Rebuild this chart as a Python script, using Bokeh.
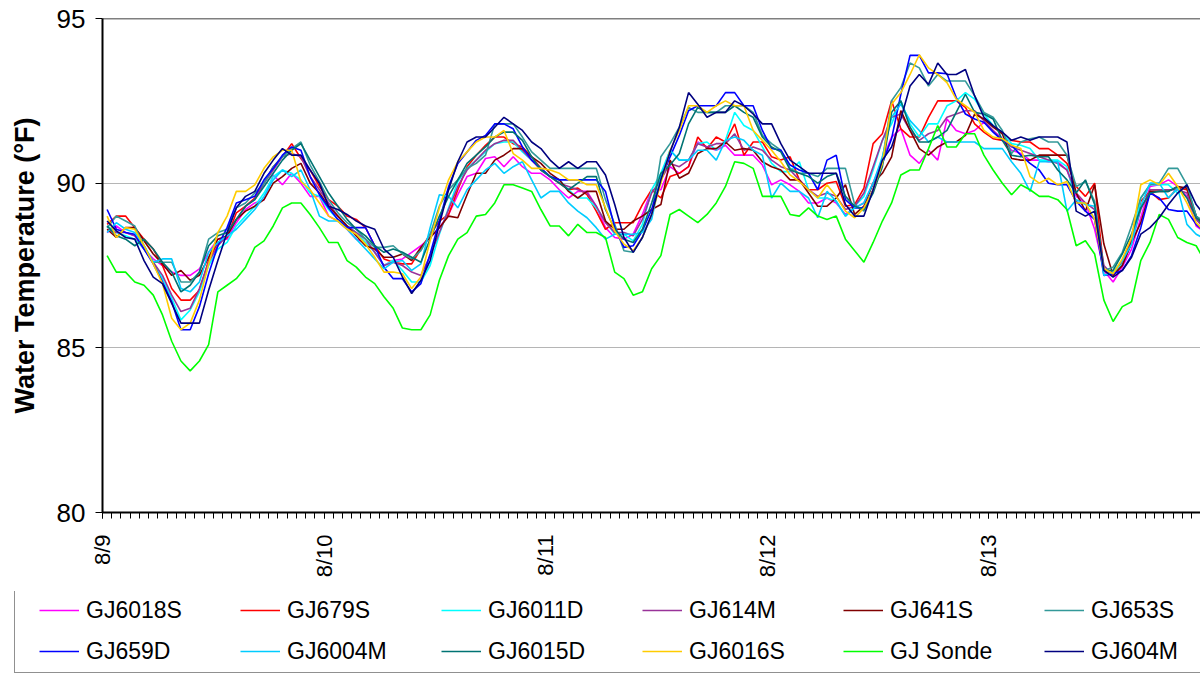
import math
from bokeh.plotting import figure
from bokeh.layouts import column, row
from bokeh.models import FixedTicker, Legend, LegendItem, Span, Range1d
from bokeh.embed import file_html
from bokeh.resources import INLINE

# ---------------- data (hourly readings, 8/9 00:00 onward) ----------------
day_labels = ["8/9", "8/10", "8/11", "8/12", "8/13"]
y_ticks = [80, 85, 90, 95]

series_names = ["GJ6018S", "GJ679S", "GJ6011D", "GJ614M", "GJ641S", "GJ653S",
                "GJ659D", "GJ6004M", "GJ6015D", "GJ6016S", "GJ Sonde", "GJ604M"]
series_colors = ["#FF00FF", "#FF0000", "#00FFFF", "#993399", "#800000", "#339999",
                 "#0000FF", "#00CCFF", "#007373", "#FFCC00", "#00FF00", "#000080"]

gj6018s = [
    88.5, 88.7, 88.5, 88.4, 88.0, 87.7, 87.5, 87.3, 87.2, 87.2, 87.4, 87.9, 88.3, 88.3, 88.8, 89.2,
    89.4, 89.5, 90.25, 89.95, 90.3, 90.0, 89.6, 89.6, 89.0, 88.85, 88.6, 88.3, 88.2, 87.9, 87.5,
    87.65, 87.7, 87.9, 88.1, 88.35, 88.65, 89.05, 89.65, 90.2, 90.3, 90.75, 90.8, 90.5, 90.8, 90.5,
    90.3, 90.3, 90.1, 89.8, 89.55, 89.75, 89.75, 89.3, 88.65, 88.35, 88.3, 88.45, 89.05, 89.8,
    89.8, 90.5, 90.3, 90.5, 91.25, 91.1, 91.0, 91.15, 90.85, 90.85, 90.85, 90.55, 89.95, 90.1, 89.95,
    89.75, 89.4, 89.4, 89.55, 89.4, 89.05, 89.25, 89.4, 90.0, 90.7, 91.4,
    91.65, 90.85, 90.6, 91.0, 90.7, 91.95, 91.6, 91.5, 91.6, 91.85, 91.6, 91.35, 91.0, 90.9, 90.7,
    90.7, 90.65, 90.65, 90.4, 89.6, 89.4, 88.6, 87.35, 87.0, 87.45, 88.0, 88.95, 89.9, 89.95, 90.1,
    89.9, 89.6, 88.7, 88.5]

gj679s = [
    88.75, 89.0, 89.0, 88.65, 88.3, 88.0, 87.5, 86.8, 86.45, 86.45, 86.75, 87.65, 88.2, 88.35, 89.1,
    89.3, 89.55, 90.0, 90.5, 90.8, 91.2, 90.75, 90.4, 89.9, 89.5, 89.3, 89.0, 88.9, 88.65, 88.1, 87.7,
    87.6, 87.55, 87.55, 88.0, 88.45, 88.85, 89.05, 89.8, 90.5, 90.85, 91.15, 91.4, 91.4, 91.2, 91.1,
    90.8, 90.45, 90.2, 90.0, 89.8, 89.85, 89.65, 89.15, 88.6, 88.8, 88.8, 88.8, 89.35, 89.8,
    89.55, 90.2, 90.3, 90.5, 91.4, 91.05, 91.4, 91.25, 91.8, 90.85, 91.25, 91.25, 90.8, 90.7, 90.8,
    90.1, 89.8, 89.8, 90.0, 90.05, 89.3, 89.35, 89.85, 91.2, 91.5, 92.5,
    91.65, 91.4, 91.4, 92.0, 92.5, 92.5, 92.5, 92.3, 91.8, 91.55, 91.35, 91.3, 91.3, 91.25, 91.25,
    91.05, 91.05, 90.85, 90.6, 89.9, 89.6, 90.0, 87.35, 87.2, 87.6, 88.3, 89.45, 89.75, 89.5, 89.55,
    89.85, 89.8, 89.0, 88.6]

gj6011d = [
    88.7, 88.5, 88.4, 88.3, 88.0, 87.6, 87.1, 86.5, 85.85, 86.15, 86.7, 87.5, 88.0, 88.2, 88.7, 89.0,
    89.3, 89.7, 90.2, 90.4, 90.3, 90.1, 89.7, 89.6, 89.2, 88.9, 88.7, 88.5, 88.2, 87.9, 87.5,
    87.65, 87.35, 87.0, 87.0, 87.5, 88.45, 89.25, 90.05, 90.45, 90.7, 90.95, 91.2, 91.25, 91.25, 90.95,
    90.7, 90.45, 90.2, 90.1, 89.8, 89.55, 89.55, 89.25, 88.85, 88.45, 88.45, 88.25, 88.75, 89.8,
    90.3, 91.0, 90.7, 90.7, 91.2, 91.25, 91.0, 91.3, 92.15, 91.75, 91.6, 91.1, 90.6, 90.35, 90.35,
    90.65, 89.8, 89.55, 89.55, 89.45, 89.0, 89.3, 89.6, 90.4, 91.3, 91.8,
    92.5, 91.8, 91.4, 91.8, 91.8, 92.35, 92.5, 92.75, 92.55, 92.1, 91.75, 91.5, 91.2, 91.15, 91.05,
    90.7, 90.7, 90.7, 90.5, 89.4, 89.4, 88.9, 87.4, 87.25, 87.55, 88.15, 89.55, 89.95, 89.95, 89.95,
    89.7, 89.95, 89.0, 88.6]

gj614m = [
    88.6, 88.5, 88.5, 88.4, 88.0, 87.6, 87.2, 86.6, 86.1, 86.2, 86.8, 87.6, 88.1, 88.4, 88.9, 89.3,
    89.5, 90.0, 90.4, 90.8, 90.9, 90.8, 90.2, 89.8, 89.4, 89.0, 88.7, 88.5, 88.3, 87.9, 87.5,
    87.6, 87.5, 87.3, 87.2, 87.8, 88.5, 89.2, 89.9, 90.4, 90.7, 91.0, 91.2, 91.3, 91.3, 91.0,
    90.7, 90.4, 90.2, 90.0, 89.9, 89.8, 89.7, 89.3, 88.8, 88.5, 88.5, 88.4, 88.9, 89.7,
    90.1, 90.6, 90.5, 90.7, 91.2, 91.1, 91.2, 91.2, 91.5, 91.0, 91.1, 91.0, 90.7, 90.5, 90.4,
    90.1, 89.8, 89.6, 89.7, 89.6, 89.2, 89.3, 89.7, 90.5, 91.3, 92.0,
    92.1, 91.6, 91.3, 91.5, 91.6, 92.0, 92.1, 92.2, 92.2, 91.9, 91.6, 91.3, 91.1, 91.0, 90.9,
    90.8, 90.7, 90.6, 90.4, 89.7, 89.4, 89.2, 87.5, 87.2, 87.5, 88.2, 89.2, 89.8, 89.8, 89.8,
    89.8, 89.7, 88.9, 88.6]

gj641s = [
    88.6, 88.35, 88.65, 88.65, 88.25, 87.85, 87.55, 87.2, 87.35, 87.05, 87.2, 87.75, 88.3, 88.4, 88.9,
    89.15, 89.3, 89.5, 90.0, 90.2, 90.45, 90.6, 90.0, 89.7, 89.3, 89.0, 88.7, 88.4, 88.1, 88.0, 87.75,
    87.75, 87.85, 87.65, 88.05, 88.35, 88.65, 89.0, 88.95, 89.65, 90.3, 90.3, 90.7, 90.85, 91.05, 91.05,
    90.8, 90.6, 90.3, 90.1, 89.75, 89.55, 89.75, 89.75, 88.85, 88.6, 88.6, 88.85, 89.0, 89.2,
    89.35, 90.7, 90.15, 90.3, 90.9, 91.05, 91.05, 91.25, 91.0, 91.05, 91.0, 90.65, 90.5, 90.4, 90.1,
    90.1, 89.7, 89.3, 89.3, 89.55, 89.95, 89.05, 89.3, 90.0, 90.3, 90.8,
    92.2, 91.6, 91.05, 90.85, 91.1, 91.25, 91.25, 91.45, 92.1, 91.95, 91.7, 91.5, 90.75, 90.7, 90.7,
    90.85, 90.85, 90.85, 90.85, 89.7, 89.15, 89.95, 88.15, 87.2, 87.5, 88.2, 88.8, 89.75, 89.75, 89.75,
    89.9, 89.85, 89.0, 88.7]

gj653s = [
    88.65, 89.0, 88.85, 88.7, 88.1, 87.6, 87.6, 87.6, 87.0, 87.0, 87.3, 88.3, 88.5, 88.6, 89.25, 89.4,
    89.7, 90.0, 90.5, 90.8, 91.05, 91.25, 90.55, 90.05, 89.5, 89.1, 88.8, 88.6, 88.3, 88.05, 88.05,
    88.1, 87.85, 87.7, 87.95, 88.45, 89.3, 89.8, 90.1, 90.45, 90.6, 90.85, 91.8, 91.8, 91.8, 91.4,
    90.95, 90.7, 90.45, 90.45, 90.45, 90.45, 90.45, 90.45, 89.5, 88.75, 87.95, 87.9, 88.35, 89.05,
    90.8, 91.2, 91.7, 92.3, 92.15, 92.15, 92.15, 92.35, 92.35, 92.35, 92.15, 91.45, 91.2, 91.0, 90.45,
    90.3, 90.3, 90.2, 90.45, 90.45, 90.45, 89.35, 89.15, 89.8, 90.7, 92.5,
    92.9, 93.65, 93.5, 92.95, 93.3, 93.1, 93.1, 93.1, 92.65, 92.15, 92.0, 91.6, 90.9, 91.25, 91.35,
    91.4, 91.25, 91.25, 90.85, 89.9, 90.05, 89.45, 87.35, 87.45, 87.9, 88.7, 89.55, 89.95, 90.0, 90.45,
    90.45, 89.95, 89.0, 88.8]

gj659d = [
    89.2, 88.6, 88.5, 88.45, 88.0, 87.55, 87.0, 86.4, 85.55, 85.55, 86.25, 87.25, 88.1, 88.65, 89.4,
    89.5, 89.6, 90.1, 90.45, 90.85, 91.1, 91.0, 90.2, 89.65, 89.25, 88.9, 88.65, 88.65, 88.65, 88.1, 87.45,
    87.1, 87.1, 86.7, 86.95, 87.85, 88.85, 89.9, 90.6, 90.95, 91.3, 91.45, 91.8, 91.8, 91.65, 91.1,
    90.7, 90.45, 90.2, 90.1, 90.1, 90.1, 90.1, 90.1, 89.75, 88.65, 88.05, 88.1, 88.55, 89.2,
    90.1, 90.8, 91.45, 92.2, 92.35, 92.35, 92.35, 92.75, 92.75, 92.35, 92.35, 91.6, 91.05, 91.0, 90.55,
    90.4, 90.3, 89.8, 90.7, 90.85, 89.5, 89.25, 89.25, 89.8, 90.6, 91.35,
    92.7, 93.88, 93.88, 93.35, 93.35, 93.32, 92.6, 92.1, 91.95, 91.85, 91.55, 91.3, 91.15, 90.85, 90.6,
    90.4, 90.0, 89.95, 89.95, 89.45, 89.15, 88.9, 87.2, 87.25, 87.35, 87.8, 88.65, 89.7, 89.55, 89.2,
    89.15, 89.15, 88.75, 88.5]

gj6004m = [
    88.5, 88.8, 88.6, 88.5, 88.1, 87.6, 87.7, 87.7, 86.8, 86.7, 87.0, 87.9, 88.2, 88.4, 88.6, 88.9,
    89.2, 89.6, 90.1, 90.4, 90.2, 90.4, 89.8, 89.0, 88.85, 88.85, 88.6, 88.3, 88.0, 87.7, 87.4,
    87.6, 87.65, 87.35, 87.55, 88.65, 89.65, 89.6, 89.25, 89.8, 90.1, 90.4, 90.6, 90.3, 90.5, 90.65,
    90.1, 89.55, 89.75, 89.75, 89.4, 89.15, 88.95, 88.65, 88.3, 88.45, 88.45, 88.45, 88.5, 88.9,
    90.2, 91.0, 90.7, 90.7, 91.0, 91.0, 90.7, 91.3, 91.4, 91.3, 91.0, 90.85, 89.55, 90.0, 89.75,
    89.75, 89.55, 88.95, 89.75, 89.45, 89.0, 89.25, 89.4, 90.0, 90.8, 92.0,
    92.4, 91.9, 91.6, 91.25, 91.4, 91.25, 91.25, 91.25, 91.25, 91.05, 91.05, 91.05, 90.65, 90.3, 89.75,
    90.65, 90.65, 90.65, 89.15, 89.5, 89.35, 89.3, 87.2, 87.3, 87.65, 88.15, 89.3, 90.0, 90.0, 89.55,
    89.85, 88.75, 88.45, 88.3]

gj6015d = [
    88.7, 88.4, 88.3, 88.1, 88.3, 88.0, 87.6, 87.3, 86.7, 86.9, 87.3, 88.1, 88.4, 88.5, 88.9, 89.3,
    89.5, 89.9, 90.3, 90.7, 91.0, 91.2, 90.7, 90.2, 89.7, 89.3, 88.9, 88.6, 88.4, 88.1, 87.9,
    88.0, 87.9, 87.75, 87.6, 88.3, 89.0, 89.6, 90.1, 90.6, 90.85, 91.1, 91.4, 91.55, 91.55, 91.3,
    90.8, 90.4, 90.2, 90.0, 89.8, 90.0, 90.2, 90.2, 89.2, 88.6, 88.3, 88.2, 88.6, 89.4,
    90.3, 90.55, 90.9, 91.8, 92.3, 92.15, 92.15, 92.15, 92.35, 92.15, 92.0, 91.4, 91.1, 90.95, 90.4,
    90.3, 90.2, 90.0, 90.2, 90.3, 89.6, 89.3, 89.2, 89.7, 90.5, 92.15,
    92.5, 91.7, 91.25, 91.25, 91.4, 91.6, 92.15, 92.7, 92.15, 92.1, 91.95, 91.3, 90.85, 90.8, 90.85,
    90.8, 90.8, 90.4, 90.1, 89.7, 90.1, 89.35, 87.35, 87.35, 87.85, 88.45, 89.25, 89.7, 89.75, 89.75,
    89.9, 89.55, 88.95, 88.7]

gj6016s = [
    89.0, 88.35, 88.65, 88.6, 88.1, 87.55, 86.95, 85.9, 85.55, 85.75, 86.45, 87.55, 88.5, 89.0, 89.75,
    89.75, 89.95, 90.45, 90.8, 91.0, 91.0, 90.05, 89.8, 89.4, 89.0, 88.85, 88.6, 88.45, 88.15, 87.75, 87.3,
    87.3, 87.25, 86.8, 87.15, 88.25, 89.25, 90.1, 90.65, 90.95, 91.25, 91.4, 91.4, 91.6, 90.9, 90.7,
    90.45, 90.45, 90.4, 90.3, 90.1, 90.1, 89.95, 89.95, 89.25, 88.55, 88.15, 87.95, 88.35, 89.05,
    90.0, 91.0, 91.6, 92.35, 92.35, 92.15, 92.35, 92.5, 92.35, 92.35, 91.6, 91.3, 91.0, 90.65, 90.25,
    90.05, 89.8, 89.55, 89.95, 89.6, 89.15, 88.95, 89.25, 89.8, 90.6, 92.4,
    92.75, 93.3, 93.9, 93.5, 93.3, 93.05, 92.55, 92.35, 92.15, 91.6, 91.4, 91.35, 91.15, 91.05, 90.2,
    90.0, 90.15, 89.95, 90.05, 89.4, 89.4, 88.9, 87.4, 87.25, 87.7, 88.35, 89.95, 90.1, 89.95, 90.3,
    89.9, 89.4, 88.8, 88.5]

gj_sonde = [
    87.8, 87.3, 87.3, 87.0, 86.9, 86.6, 86.0, 85.2, 84.6, 84.3, 84.6, 85.1, 86.7, 86.9, 87.1, 87.45,
    88.05, 88.25, 88.7, 89.25, 89.4, 89.4, 89.05, 88.65, 88.2, 88.2, 87.65, 87.45, 87.15, 86.95, 86.55,
    86.2, 85.6, 85.55, 85.55, 86.0, 87.05, 87.8, 88.3, 88.5, 89.0, 89.05, 89.4, 89.95, 89.95, 89.85,
    89.75, 89.2, 88.7, 88.7, 88.4, 88.75, 88.5, 88.5, 88.35, 87.3, 87.1, 86.6, 86.7, 87.4,
    87.8, 89.05, 89.2, 89.0, 88.8, 89.05, 89.4, 89.9, 90.65, 90.6, 90.45, 89.6, 89.6, 89.6, 89.05,
    89.0, 89.25, 89.0, 88.9, 89.0, 88.3, 87.95, 87.6, 88.2, 88.85, 89.4,
    90.25, 90.4, 90.4, 91.05, 91.75, 91.1, 91.1, 91.5, 91.5, 90.85, 90.4, 90.0, 89.65, 89.95, 89.8,
    89.6, 89.6, 89.5, 89.2, 88.1, 88.25, 87.85, 86.45, 85.8, 86.25, 86.4, 87.65, 88.2, 89.05, 88.9,
    88.35, 88.2, 88.1, 87.6]

gj604m = [
    88.85, 88.55, 88.35, 88.3, 87.65, 87.15, 86.95, 86.35, 85.75, 85.75, 85.75, 86.75, 87.65, 88.5,
    89.25, 89.6, 89.75, 90.3, 90.7, 91.05, 90.85, 90.85, 90.4, 90.0, 89.3, 89.2, 89.05, 88.85, 88.7,
    88.6, 88.0,
    87.75, 87.15, 86.65, 87.05, 87.65, 88.75, 89.8, 90.65, 91.25, 91.4, 91.4, 91.7, 92.0, 91.8, 91.6,
    91.25, 91.05, 90.7, 90.45, 90.65, 90.45, 90.65, 90.65, 90.25, 89.35, 88.35, 87.9, 88.35, 89.05,
    90.1, 90.95, 91.7, 92.75, 92.4, 92.0, 92.15, 92.15, 92.5, 92.35, 92.1, 91.8, 91.8, 91.2, 90.7,
    90.5, 90.3, 90.3, 90.3, 90.3, 89.35, 89.0, 89.0, 89.8, 90.7, 91.1,
    91.95, 92.95, 93.3, 93.0, 93.65, 93.3, 93.3, 93.45, 92.65, 92.0, 91.75, 91.55, 91.3, 91.4, 91.3,
    91.4, 91.4, 91.4, 91.25, 89.15, 89.0, 89.15, 87.35, 87.15, 87.35, 87.75, 88.45, 88.65, 88.95, 89.35,
    89.7, 89.95, 89.35, 89.0]

series_values = [gj6018s, gj679s, gj6011d, gj614m, gj641s, gj653s,
                 gj659d, gj6004m, gj6015d, gj6016s, gj_sonde, gj604m]

# ---------------- main chart ----------------
FONT = "Liberation Sans"
HOURS_PER_DAY = 24
n_hours = max(len(v) for v in series_values)

p = figure(width=1200, height=591, output_backend="svg", toolbar_location=None,
           x_range=Range1d(-0.5, 118.47), y_range=Range1d(80, 95),
           min_border_left=102, min_border_right=0, min_border_top=18,
           min_border_bottom=79)
p.outline_line_color = None
p.background_fill_color = "white"
p.border_fill_color = "white"

day_ticks = [-0.5 + HOURS_PER_DAY * k for k in range(len(day_labels))]
hour_ticks = [-0.5 + k for k in range(n_hours + 1)]
xa = p.xaxis[0]
xa.ticker = FixedTicker(ticks=day_ticks, minor_ticks=hour_ticks)
xa.major_label_overrides = {t: lab for t, lab in zip(day_ticks, day_labels)}
xa.major_label_orientation = math.pi / 2
xa.major_label_text_font = FONT
xa.major_label_text_font_size = "22px"
xa.major_label_text_color = "black"
xa.major_label_standoff = 16
xa.axis_line_color = "black"
xa.axis_line_width = 2
xa.major_tick_line_color = "black"
xa.minor_tick_line_color = "black"
xa.major_tick_out = 6
xa.major_tick_in = 0
xa.minor_tick_out = 6
xa.minor_tick_in = 0

ya = p.yaxis[0]
ya.ticker = FixedTicker(ticks=y_ticks)
ya.major_label_text_font = FONT
ya.major_label_text_font_size = "26px"
ya.major_label_text_color = "black"
ya.major_label_standoff = 10
ya.axis_line_color = "black"
ya.axis_line_width = 2
ya.major_tick_line_color = "black"
ya.major_tick_out = 7
ya.major_tick_in = 0
ya.minor_tick_line_color = None
ya.axis_label = "Water Temperature (°F)"
ya.axis_label_text_font = FONT
ya.axis_label_text_font_size = "27px"
ya.axis_label_text_font_style = "bold"
ya.axis_label_text_color = "black"
ya.axis_label_standoff = 14

p.xgrid.visible = False
p.ygrid.ticker = FixedTicker(ticks=[85, 90])
p.ygrid.grid_line_color = "#6b6b6b"
p.ygrid.grid_line_dash = "1 1"
p.ygrid.grid_line_width = 1

p.add_layout(Span(location=95, dimension="width", line_color="black", line_width=1.5))

for vals, color in zip(series_values, series_colors):
    p.line(x=list(range(len(vals))), y=vals, line_color=color, line_width=1.6)

# ---------------- legend strip (same series; its y-range hides the lines) ----------------
leg = figure(width=1200, height=82, output_backend="svg", toolbar_location=None,
             x_range=Range1d(0, 1), y_range=Range1d(0, 1),
             x_axis_location=None, y_axis_location=None,
             min_border_left=0, min_border_right=0, min_border_top=0, min_border_bottom=0)
leg.outline_line_color = None
leg.xgrid.visible = False
leg.ygrid.visible = False
leg.background_fill_color = "white"
leg.border_fill_color = "white"

items = []
for name, vals, color in zip(series_names, series_values, series_colors):
    r = leg.line(x=list(range(len(vals))), y=vals, line_color=color, line_width=1.6)
    items.append(LegendItem(label=name, renderers=[r]))

legend = Legend(items=items, location=(14, 0), orientation="horizontal", ncols=6,
                border_line_color="#222222", border_line_width=1.5,
                background_fill_color="white", background_fill_alpha=1.0,
                padding=6, spacing=11, margin=0,
                glyph_width=40, glyph_height=30, label_height=30, label_width=143,
                label_standoff=7,
                label_text_font=FONT, label_text_font_size="23px", label_text_color="black",
                title=" ", title_location="left", title_text_font_size="10px",
                title_standoff=7)
leg.add_layout(legend)

layout = column(p, row(leg, spacing=0), spacing=0)
open("out.html", "w").write(file_html(layout, INLINE))
